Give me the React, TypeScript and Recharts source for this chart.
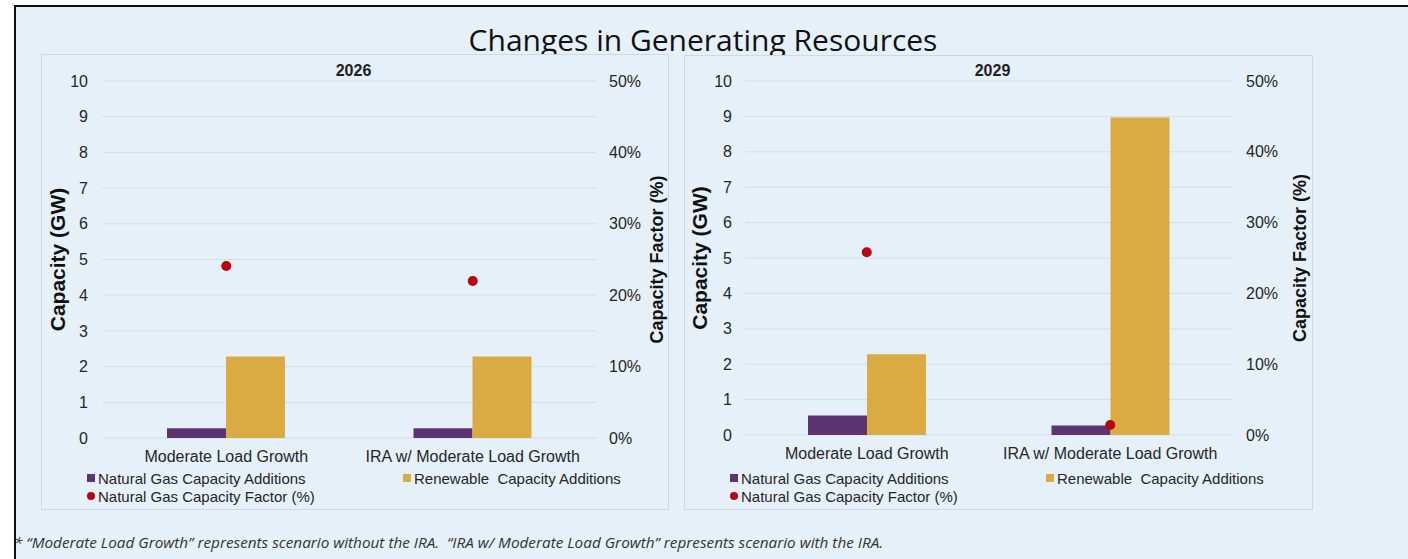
import { ComposedChart, Bar, Line, XAxis, YAxis, CartesianGrid } from "recharts";

const categories = ["Moderate Load Growth", "IRA w/ Moderate Load Growth"];
const gas2026 = [0.27, 0.27];
const renew2026 = [2.28, 2.28];
const cf2026 = [24.1, 22.0];
const gas2029 = [0.55, 0.27];
const renew2029 = [2.28, 8.97];
const cf2029 = [25.8, 1.4];
const capTicks = [0, 1, 2, 3, 4, 5, 6, 7, 8, 9, 10];
const cfTicks = [0, 10, 20, 30, 40, 50];

const seriesNames = [
  "Natural Gas Capacity Additions",
  "Renewable  Capacity Additions",
  "Natural Gas Capacity Factor (%)",
];

const PURPLE = "#5c3471";
const GOLD = "#dbab43";
const RED = "#b8050f";
const BG = "#e6f0f9";
const GRID = "#d3dde8";
const FONT = "'Liberation Sans', Arial, sans-serif";

function buildData(gas: number[], renew: number[], cf: number[]) {
  return categories.map((c, i) => ({
    name: c,
    gas: gas[i],
    renew: renew[i],
    cf: cf[i],
  }));
}

function Legend({ left, top }: { left: number; top: number }) {
  const item = (label: string, marker: JSX.Element) => (
    <div style={{ display: "flex", alignItems: "center", height: 18 }}>
      {marker}
      <span style={{ marginLeft: 3, whiteSpace: "pre" }}>{label}</span>
    </div>
  );
  return (
    <div
      style={{
        position: "absolute",
        left,
        top,
        display: "grid",
        gridTemplateColumns: "316px auto",
        fontFamily: FONT,
        fontSize: 15,
        color: "#262626",
      }}
    >
      {item(seriesNames[0], <div style={{ width: 8, height: 8, background: PURPLE }} />)}
      {item(seriesNames[1], <div style={{ width: 8, height: 8, background: GOLD }} />)}
      {item(
        seriesNames[2],
        <div style={{ width: 8, height: 8, borderRadius: 4, background: RED }} />
      )}
    </div>
  );
}

type PanelProps = {
  year: string;
  gas: number[];
  renew: number[];
  cf: number[];
  x: number;
  width: number;
  margin: { top: number; left: number; right: number; bottom: number };
  leftTickMargin: number;
  rightTickMargin: number;
  leftLabelOffset: number;
  rightLabelOffset: number;
};

function Panel(p: PanelProps) {
  const data = buildData(p.gas, p.renew, p.cf);
  const xTick = { fontSize: 16, fill: "#262626", fontFamily: FONT };
  const yTick = { fontSize: 16, fill: "#262626", fontFamily: FONT };
  const axisTitle = {
    textAnchor: "middle" as const,
    fontWeight: 700,
    fill: "#111",
    fontFamily: FONT,
  };
  return (
    <div style={{ position: "absolute", left: p.x, top: 0 }}>
      <ComposedChart
        width={p.width}
        height={520}
        data={data}
        margin={p.margin}
        barGap={0}
      >
        <text
          x={p.margin.left + 40 + (p.width - p.margin.left - p.margin.right - 90) / 2 + 4}
          y={76}
          textAnchor="middle"
          fontSize={16}
          fontWeight={700}
          fontFamily={FONT}
          fill="#222"
        >
          {p.year}
        </text>
        <CartesianGrid vertical={false} stroke={GRID} yAxisId="cap" />
        <XAxis
          dataKey="name"
          axisLine={false}
          tickLine={false}
          tickSize={0}
          tickMargin={13}
          height={30}
          tick={xTick}
          interval={0}
        />
        <YAxis
          yAxisId="cap"
          domain={[0, 10]}
          ticks={capTicks}
          axisLine={false}
          tickLine={false}
          tickSize={0}
          tickMargin={p.leftTickMargin}
          width={40}
          tick={yTick}
          label={{
            value: "Capacity (GW)",
            angle: -90,
            position: "insideLeft",
            offset: p.leftLabelOffset,
            style: { ...axisTitle, fontSize: 21 },
          }}
        />
        <YAxis
          yAxisId="cf"
          orientation="right"
          domain={[0, 50]}
          ticks={cfTicks}
          tickFormatter={(v: number) => `${v}%`}
          axisLine={false}
          tickLine={false}
          tickSize={0}
          tickMargin={p.rightTickMargin}
          width={50}
          tick={yTick}
          label={{
            value: "Capacity Factor (%)",
            angle: -90,
            position: "insideRight",
            offset: p.rightLabelOffset,
            style: { ...axisTitle, fontSize: 18 },
          }}
        />
        <Bar yAxisId="cap" dataKey="gas" name={seriesNames[0]} fill={PURPLE} barSize={59} isAnimationActive={false} />
        <Bar yAxisId="cap" dataKey="renew" name={seriesNames[1]} fill={GOLD} barSize={59} isAnimationActive={false} />
        <Line
          yAxisId="cf"
          dataKey="cf"
          name={seriesNames[2]}
          stroke="none"
          dot={{ r: 5, fill: RED, stroke: "none" }}
          activeDot={false}
          isAnimationActive={false}
        />
      </ComposedChart>
    </div>
  );
}

export default function App() {
  return (
    <div
      style={{
        position: "absolute",
        left: 0,
        top: 0,
        width: 1408,
        height: 559,
        background: "#fff",
        overflow: "hidden",
      }}
    >
      <div
        style={{
          position: "absolute",
          left: 14,
          top: 5,
          right: 0,
          bottom: 0,
          background: BG,
          borderTop: "2px solid #111",
          borderLeft: "2px solid #111",
        }}
      />
      <div
        style={{
          position: "absolute",
          left: 0,
          width: 1406,
          top: 25,
          textAlign: "center",
          fontFamily: "'Open Sans', sans-serif",
          fontSize: 30,
          lineHeight: "30px",
          color: "#111",
        }}
      >
        Changes in Generating Resources
      </div>
      <div
        style={{
          position: "absolute",
          left: 41,
          top: 54,
          width: 626,
          height: 454,
          background: BG,
          border: "1px solid #cfd8e2",
        }}
      />
      <div
        style={{
          position: "absolute",
          left: 684,
          top: 55,
          width: 627,
          height: 453,
          background: BG,
          border: "1px solid #cfd8e2",
        }}
      />
      <Panel
        year="2026"
        gas={gas2026}
        renew={renew2026}
        cf={cf2026}
        x={0}
        width={690}
        margin={{ top: 81, left: 63, right: 44, bottom: 52 }}
        leftTickMargin={15}
        rightTickMargin={13}
        leftLabelOffset={-5}
        rightLabelOffset={-11}
      />
      <Panel
        year="2029"
        gas={gas2029}
        renew={renew2029}
        cf={cf2029}
        x={640}
        width={700}
        margin={{ top: 81, left: 65, right: 58, bottom: 55 }}
        leftTickMargin={13}
        rightTickMargin={14}
        leftLabelOffset={-5}
        rightLabelOffset={-18}
      />
      <Legend left={87} top={469} />
      <Legend left={730} top={469} />
      <div
        style={{
          position: "absolute",
          left: 14,
          top: 532,
          fontFamily: "'Open Sans', sans-serif",
          fontStyle: "italic",
          fontSize: 15.3,
          color: "#333",
          whiteSpace: "pre",
        }}
      >
        {"* \u201cModerate Load Growth\u201d represents scenario without the IRA.  \u201cIRA w/ Moderate Load Growth\u201d represents scenario with the IRA."}
      </div>
    </div>
  );
}
